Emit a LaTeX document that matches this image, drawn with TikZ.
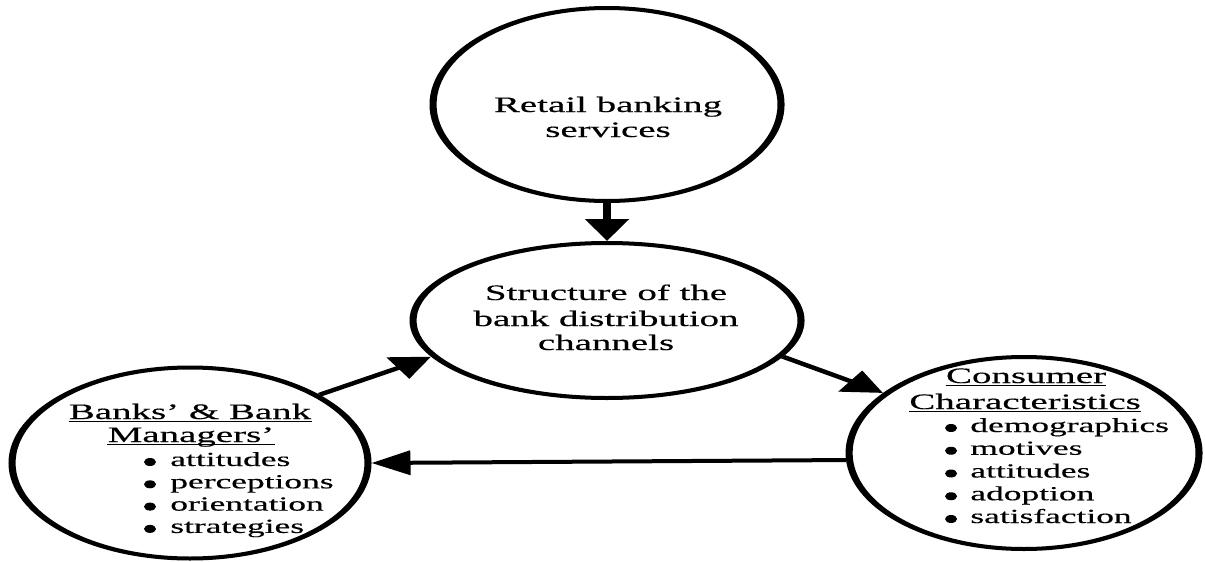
\documentclass[tikz,border=0pt]{standalone}
\usepackage{fontspec}
\setmainfont[FakeBold=0.3]{Liberation Serif}
\usetikzlibrary{shapes.geometric,arrows.meta,calc}

\begin{document}
\begin{tikzpicture}
\fill[white] (0,0) rectangle (1205pt,-562pt);
\useasboundingbox (0,0) rectangle (1205pt,-562pt);
% the whole drawing is widened horizontally by 1.77; positions are given in page pixels
\begin{scope}[x=0.565pt, y=-1pt, transform canvas={xscale=1.77},
  bubble/.style={ellipse, draw, line width=4pt, inner sep=0pt, fill=white},
  link/.style={line width=4pt, -{Triangle[width=24pt,length=22pt]}},
  txt/.style={font=\fontsize{22}{25}\selectfont, inner sep=0pt, anchor=base},
  item/.style={font=\fontsize{20}{22}\selectfont, inner sep=0pt, anchor=base west},
  uline/.style={line width=1.2pt}]

  % bubbles
  \node[bubble, minimum width=196.6pt, minimum height=193pt] (T) at (607,104.5) {};
  \node[bubble, minimum width=219.2pt, minimum height=155pt] (M) at (607,320.5) {};
  \node[bubble, minimum width=201.1pt, minimum height=191pt] (L) at (190,463) {};
  \node[bubble, minimum width=197.7pt, minimum height=192pt] (R) at (1024,453) {};

  % top bubble
  \node[txt] (t1) at (608,112) {Retail banking};
  \node[txt] (t2) at (608,137) {services};

  % centre bubble
  \node[txt] (m1) at (606,300) {Structure of the};
  \node[txt] (m2) at (606,326) {bank distribution};
  \node[txt] (m3) at (606,350) {channels};

  % left bubble
  \node[txt] (l1) at (190,419) {Banks’ \& Bank};
  \node[txt] (l2) at (191,442) {Managers’};
  \foreach \n in {l1,l2}
    \draw[uline] ($(\n.base west)+(0,2.5)$) -- ($(\n.base east)+(0,2.5)$);
  \foreach \w [count=\i] in {attitudes,perceptions,orientation,strategies} {
    \node[item] (li\i) at (170,{466+22.3*(\i-1)}) {\w};
    \fill ($(li\i.base west)+(-20,-4)$) ellipse [x radius=3.4pt, y radius=4pt];
  }

  % right bubble
  \node[txt] (r1) at (1026,383) {Consumer};
  \node[txt] (r2) at (1025,409) {Characteristics};
  \foreach \n in {r1,r2}
    \draw[uline] ($(\n.base west)+(0,2.5)$) -- ($(\n.base east)+(0,2.5)$);
  \foreach \w [count=\i] in {demographics,motives,attitudes,adoption,satisfaction} {
    \node[item] (ri\i) at (970,{432+22.75*(\i-1)}) {\w};
    \fill ($(ri\i.base west)+(-19,-4)$) ellipse [x radius=3.4pt, y radius=4pt];
  }

  % connectors
  \draw[link] (T.south) -- (M.north);
  \draw[link] (L.43) -- (M.200);
  \draw[link] (M.340) -- (R.143);
  \draw[link] (R.184) -- (L.0);
\end{scope}
\end{tikzpicture}
\end{document}
